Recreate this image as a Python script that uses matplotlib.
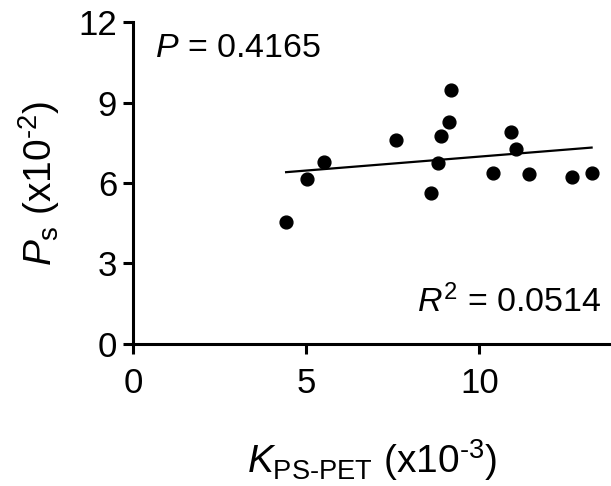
import matplotlib
matplotlib.use('Agg')
import matplotlib.pyplot as plt
import numpy as np

# values (x in 1e-3, y in 1e-2)
k_ps_pet = [4.42, 5.03, 5.50, 7.59, 8.61, 8.81, 8.88, 9.13, 9.18,
            10.40, 10.91, 11.05, 11.43, 12.68, 13.24]
p_s = [4.53, 6.16, 6.77, 7.60, 5.61, 6.74, 7.77, 8.27, 9.45,
       6.39, 7.91, 7.26, 6.33, 6.21, 6.39]
p_text = '0.4165'
r2_text = '0.0514'
x_ticks = [0, 5, 10]
y_ticks = [0, 3, 6, 9, 12]

plt.rcParams['font.family'] = ['Liberation Sans', 'DejaVu Sans']
plt.rcParams['mathtext.fontset'] = 'custom'
plt.rcParams['mathtext.rm'] = 'Liberation Sans'
plt.rcParams['mathtext.it'] = 'Liberation Sans:italic'
plt.rcParams['mathtext.default'] = 'regular'

fig = plt.figure(figsize=(6.11, 4.86), dpi=100)
ax = fig.add_axes([0.2177, 0.2922, 0.7823, 0.6625])

x = np.array(k_ps_pet)
y = np.array(p_s)
slope, intercept = np.polyfit(x, y, 1)
xl = np.array([x.min(), x.max()])
ax.plot(xl, slope * xl + intercept, color='black', lw=1.6, zorder=2)
ax.scatter(x, y, s=85, color='black', zorder=3, clip_on=False)

ax.set_xlim(0, 13.8)
ax.set_ylim(0, 12)
ax.set_xticks(x_ticks)
ax.set_yticks(y_ticks)

for side in ['top', 'right']:
    ax.spines[side].set_visible(False)
for side in ['left', 'bottom']:
    ax.spines[side].set_linewidth(2.2)
ax.tick_params(width=2.2, length=7.5, labelsize=25, color='black')
ax.tick_params(axis='y', pad=4)
ax.tick_params(axis='x', pad=9)

ax.set_xlabel(r'$\mathit{K}_{\mathrm{PS\text{-}PET}}$ (x10$^{\text{-3}}$)', fontsize=28, labelpad=27)
ax.set_ylabel(r'$\mathit{P}_{\mathrm{s}}$ (x10$^{\text{-2}}$)', fontsize=28, labelpad=12)

ax.text(0.045, 0.89, r'$\mathit{P}$ = ' + p_text, transform=ax.transAxes,
        fontsize=24.5, ha='left', va='baseline')
ax.text(0.98, 0.10, r'$\mathit{R}^{2}$ = ' + r2_text, transform=ax.transAxes,
        fontsize=24.5, ha='right', va='baseline')

fig.savefig('out.png', dpi=100)
